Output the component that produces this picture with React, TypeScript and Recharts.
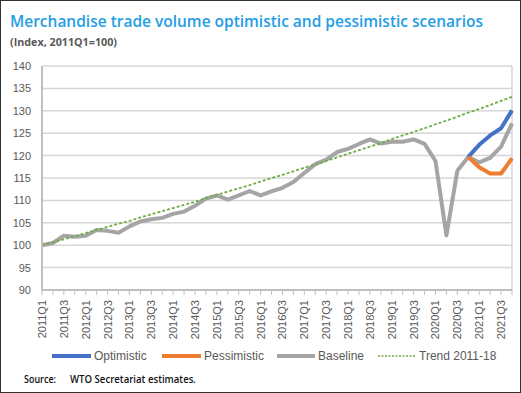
import React from "react";
import { LineChart, Line, XAxis, YAxis, CartesianGrid, ReferenceLine } from "recharts";

const quarters = [
  "2011Q1", "2011Q2", "2011Q3", "2011Q4",
  "2012Q1", "2012Q2", "2012Q3", "2012Q4",
  "2013Q1", "2013Q2", "2013Q3", "2013Q4",
  "2014Q1", "2014Q2", "2014Q3", "2014Q4",
  "2015Q1", "2015Q2", "2015Q3", "2015Q4",
  "2016Q1", "2016Q2", "2016Q3", "2016Q4",
  "2017Q1", "2017Q2", "2017Q3", "2017Q4",
  "2018Q1", "2018Q2", "2018Q3", "2018Q4",
  "2019Q1", "2019Q2", "2019Q3", "2019Q4",
  "2020Q1", "2020Q2", "2020Q3", "2020Q4",
  "2021Q1", "2021Q2", "2021Q3", "2021Q4",
];

const baseline = [
  100.0, 100.5, 102.1, 101.9, 102.1, 103.4, 103.2, 102.8, 104.2, 105.3, 105.8, 106.1,
  107.0, 107.5, 108.8, 110.4, 111.1, 110.2, 111.1, 112.1, 111.1, 112.0, 112.8, 114.1,
  116.1, 118.1, 119.1, 120.8, 121.5, 122.6, 123.6, 122.7, 123.1, 123.1, 123.6, 122.6,
  118.8, 102.2, 116.6, 119.7, 118.5, 119.5, 122.0, 127.2,
];

const optimistic: (number | null)[] = [
  null, null, null, null, null, null, null, null, null, null, null, null,
  null, null, null, null, null, null, null, null, null, null, null, null,
  null, null, null, null, null, null, null, null, null, null, null, null,
  null, null, null, 119.7, 122.4, 124.5, 126.1, 130.1,
];

const pessimistic: (number | null)[] = [
  null, null, null, null, null, null, null, null, null, null, null, null,
  null, null, null, null, null, null, null, null, null, null, null, null,
  null, null, null, null, null, null, null, null, null, null, null, null,
  null, null, null, 119.7, 117.4, 116.0, 116.0, 119.4,
];

const trend = [
  100.0, 100.7, 101.3, 102.0, 102.7, 103.4, 104.1, 104.8, 105.4, 106.2, 106.9, 107.6,
  108.3, 109.0, 109.7, 110.5, 111.2, 112.0, 112.7, 113.4, 114.2, 115.0, 115.7, 116.5,
  117.3, 118.0, 118.8, 119.6, 120.4, 121.2, 122.0, 122.8, 123.7, 124.5, 125.3, 126.1,
  127.0, 127.8, 128.7, 129.6, 130.4, 131.3, 132.2, 133.1,
];

const yTicks = [90, 95, 100, 105, 110, 115, 120, 125, 130, 135, 140];

const seriesNames = ["Optimistic", "Pessimistic", "Baseline", "Trend 2011-18"];

const data = quarters.map((q, i) => ({
  q,
  optimistic: optimistic[i],
  pessimistic: pessimistic[i],
  baseline: baseline[i],
  trend: trend[i],
}));

const axisFont = "'Liberation Sans', Arial, sans-serif";

const XTick = (props: any) => {
  const { x, y, payload } = props;
  const idx = quarters.indexOf(payload.value);
  if (idx % 2 !== 0) return null;
  return (
    <text
      x={x}
      y={y}
      transform={`rotate(-90, ${x}, ${y})`}
      textAnchor="end"
      dy={4}
      fontSize={11}
      fontFamily={axisFont}
      fill="#595959"
    >
      {payload.value}
    </text>
  );
};

const legendItems = [
  { name: seriesNames[0], color: "#4472c4", dash: undefined as string | undefined, w: 4, x1: 52, x2: 91, tx: 94 },
  { name: seriesNames[1], color: "#ed7d31", dash: undefined, w: 4, x1: 162, x2: 201, tx: 204 },
  { name: seriesNames[2], color: "#a5a5a5", dash: undefined, w: 4, x1: 277, x2: 315, tx: 318 },
  { name: seriesNames[3], color: "#70ad47", dash: "2 1.5", w: 1.5, x1: 378, x2: 415, tx: 419 },
];

export default function App() {
  return (
    <div style={{ position: "absolute", left: 0, top: 0, width: 521, height: 393, background: "#fff" }}>
      <LineChart
        width={521}
        height={393}
        data={data}
        margin={{ top: 66, right: 9, bottom: 0, left: 0 }}
      >
        <CartesianGrid vertical={false} stroke="#d6d6d6" strokeWidth={1.5} />
        <ReferenceLine x="2021Q4" stroke="#d6d6d6" strokeWidth={1.5} />
        <XAxis
          dataKey="q"
          interval={0}
          height={103}
          tick={<XTick />}
          tickSize={5}
          tickMargin={5}
          axisLine={{ stroke: "#bfbfbf", strokeWidth: 2 }}
          tickLine={{ stroke: "#bfbfbf" }}
        />
        <YAxis
          width={42}
          domain={[90, 140]}
          ticks={yTicks}
          interval={0}
          tickLine={false}
          tickMargin={5}
          axisLine={{ stroke: "#bfbfbf", strokeWidth: 2 }}
          tick={{ fontSize: 11, fontFamily: axisFont, fill: "#595959" }}
        />
        <Line
          dataKey="baseline"
          name={seriesNames[2]}
          stroke="#a5a5a5"
          strokeWidth={4}
          dot={false}
          strokeLinejoin="round"
          isAnimationActive={false}
        />
        <Line
          dataKey="optimistic"
          name={seriesNames[0]}
          stroke="#4472c4"
          strokeWidth={4}
          dot={false}
          strokeLinejoin="round"
          isAnimationActive={false}
        />
        <Line
          dataKey="pessimistic"
          name={seriesNames[1]}
          stroke="#ed7d31"
          strokeWidth={4}
          dot={false}
          strokeLinejoin="round"
          isAnimationActive={false}
        />
        <Line
          dataKey="trend"
          name={seriesNames[3]}
          stroke="#70ad47"
          strokeWidth={1.8}
          strokeDasharray="3 2"
          dot={false}
          isAnimationActive={false}
        />
      </LineChart>
      <svg
        width={521}
        height={393}
        style={{ position: "absolute", left: 0, top: 0, pointerEvents: "none" }}
      >
        <rect x={0.5} y={0.5} width={520} height={392} fill="none" stroke="#333" strokeWidth={1} />
        <text
          x={10}
          y={27}
          fontSize={16}
          fontWeight={600}
          fontFamily="'Open Sans', sans-serif"
          fill="#1f9ee6"
          textLength={473}
          lengthAdjust="spacingAndGlyphs"
        >
          Merchandise trade volume optimistic and pessimistic scenarios
        </text>
        <text
          x={10}
          y={46}
          fontSize={11}
          fontWeight={700}
          fontFamily="'Open Sans', sans-serif"
          fill="#595959"
          textLength={107}
          lengthAdjust="spacingAndGlyphs"
        >
          (Index, 2011Q1=100)
        </text>
        {legendItems.map((it) => (
          <g key={it.name}>
            <line
              x1={it.x1}
              x2={it.x2}
              y1={356}
              y2={356}
              stroke={it.color}
              strokeWidth={it.w}
              strokeDasharray={it.dash}
            />
            <text x={it.tx} y={360} fontSize={12} fontFamily={axisFont} fill="#595959">
              {it.name}
            </text>
          </g>
        ))}
        <text
          x={24}
          y={383}
          fontSize={10.5}
          fontWeight={600}
          fontFamily="'Open Sans', sans-serif"
          fill="#111"
          textLength={32}
          lengthAdjust="spacingAndGlyphs"
        >
          Source:
        </text>
        <text
          x={70}
          y={383}
          fontSize={10.5}
          fontWeight={600}
          fontFamily="'Open Sans', sans-serif"
          fill="#111"
          textLength={126}
          lengthAdjust="spacingAndGlyphs"
        >
          WTO Secretariat estimates.
        </text>
      </svg>
    </div>
  );
}
